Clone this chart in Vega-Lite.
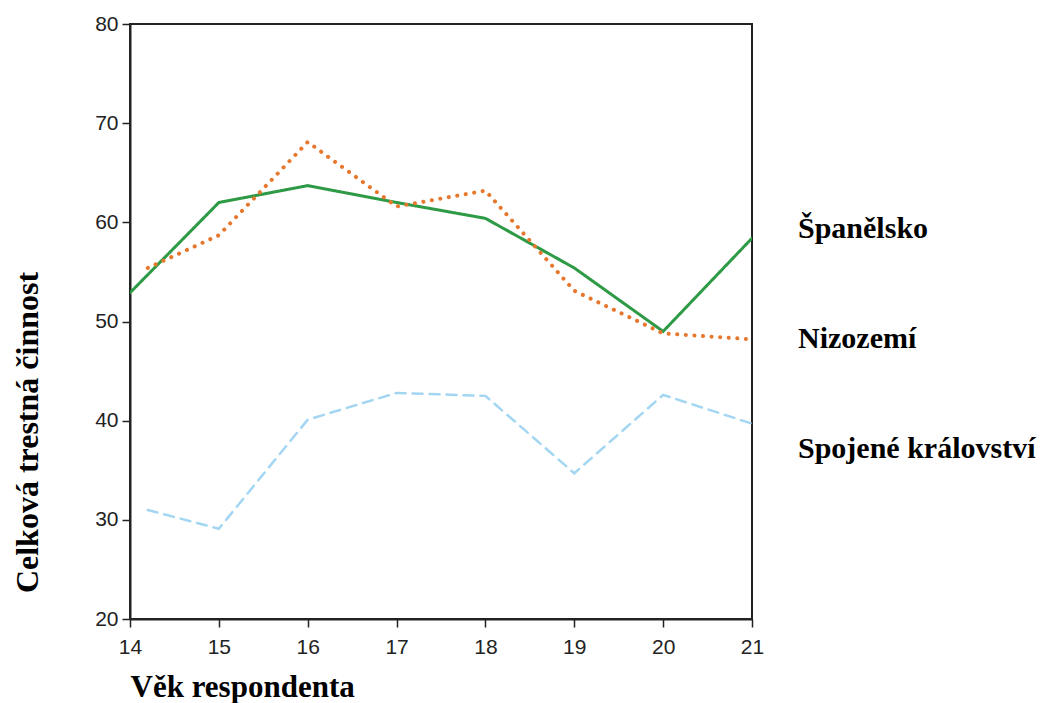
{
  "$schema": "https://vega.github.io/schema/vega-lite/v6.json",
  "width": 622,
  "height": 595,
  "autosize": {"type": "none"},
  "padding": {"left": 130, "top": 24, "right": 302, "bottom": 84},
  "background": "white",
  "config": {
    "view": {"stroke": "#222", "strokeWidth": 2},
    "axis": {
      "domainColor": "#222", "domainWidth": 2, "tickColor": "#222", "tickWidth": 1.5, "tickSize": 8,
      "labelFont": "Liberation Sans", "labelFontSize": 21, "labelColor": "#222",
      "titleFont": "Liberation Serif", "titleFontSize": 31, "titleFontWeight": "bold", "titleColor": "#000",
      "grid": false
    }
  },
  "data": {"values": [
    {"country": "Španělsko", "age": 14.0, "value": 52.9},
    {"country": "Španělsko", "age": 15, "value": 62.0},
    {"country": "Španělsko", "age": 16, "value": 63.7},
    {"country": "Španělsko", "age": 17, "value": 62.0},
    {"country": "Španělsko", "age": 18, "value": 60.4},
    {"country": "Španělsko", "age": 19, "value": 55.4},
    {"country": "Španělsko", "age": 20, "value": 49.0},
    {"country": "Španělsko", "age": 21, "value": 58.4},
    {"country": "Nizozemí", "age": 14.2, "value": 55.4},
    {"country": "Nizozemí", "age": 15, "value": 58.7},
    {"country": "Nizozemí", "age": 16, "value": 68.1},
    {"country": "Nizozemí", "age": 17, "value": 61.6},
    {"country": "Nizozemí", "age": 18, "value": 63.2},
    {"country": "Nizozemí", "age": 19, "value": 53.1},
    {"country": "Nizozemí", "age": 20, "value": 48.8},
    {"country": "Nizozemí", "age": 21, "value": 48.2},
    {"country": "Spojené království", "age": 14.2, "value": 31.0},
    {"country": "Spojené království", "age": 15, "value": 29.1},
    {"country": "Spojené království", "age": 16, "value": 40.1},
    {"country": "Spojené království", "age": 17, "value": 42.8},
    {"country": "Spojené království", "age": 18, "value": 42.5},
    {"country": "Spojené království", "age": 19, "value": 34.7},
    {"country": "Spojené království", "age": 20, "value": 42.6},
    {"country": "Spojené království", "age": 21, "value": 39.7}
  ]},
  "mark": {"type": "line", "strokeCap": "round", "clip": true},
  "encoding": {
    "x": {
      "field": "age", "type": "quantitative",
      "scale": {"domain": [14, 21], "nice": false, "zero": false},
      "axis": {"values": [14, 15, 16, 17, 18, 19, 20, 21], "labelFlush": false, "labelFontSize": 21, "labelPadding": 9,
        "title": "Věk respondenta", "titleFontSize": 31,
        "titleAnchor": "start", "titleAlign": "left", "titleX": 0, "titleY": 77, "titleBaseline": "alphabetic"}
    },
    "y": {
      "field": "value", "type": "quantitative",
      "scale": {"domain": [20, 80], "nice": false, "zero": false},
      "axis": {"values": [20, 30, 40, 50, 60, 70, 80], "labelFlush": false, "labelFontSize": 21, "labelPadding": 4,
        "title": "Celková trestná činnost", "titleFontSize": 32,
        "titleX": -103, "titleY": 408, "titleBaseline": "middle", "titleAngle": -90}
    },
    "color": {
      "field": "country", "type": "nominal",
      "scale": {"domain": ["Španělsko", "Nizozemí", "Spojené království"], "range": ["#2e9a45", "#e8772e", "#a3d6f2"]},
      "legend": {"orient": "none", "legendX": 638, "legendY": 190, "title": null,
        "symbolOpacity": 0, "symbolSize": 0, "symbolStrokeWidth": 0, "labelOffset": 0,
        "labelFont": "Liberation Serif", "labelFontSize": 30, "labelFontWeight": "bold", "labelColor": "#000",
        "rowPadding": 80, "labelLimit": 400}
    },
    "strokeDash": {
      "field": "country", "type": "nominal",
      "scale": {"domain": ["Španělsko", "Nizozemí", "Spojené království"], "range": [[1, 0], [0.1, 8.5], [10, 7]]},
      "legend": null
    },
    "strokeWidth": {
      "field": "country", "type": "nominal",
      "scale": {"type": "ordinal", "domain": ["Španělsko", "Nizozemí", "Spojené království"], "range": [3, 4, 2.5]},
      "legend": null
    }
  }
}
